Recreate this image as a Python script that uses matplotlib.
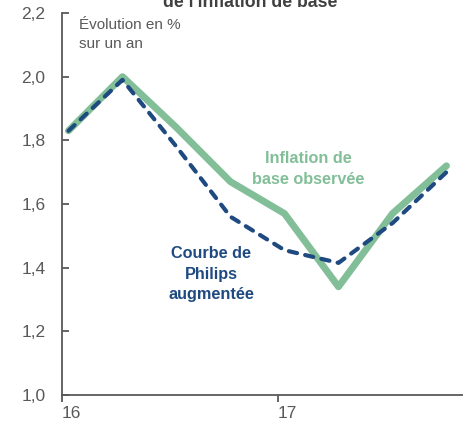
import matplotlib.pyplot as plt
from matplotlib.ticker import FuncFormatter, FixedLocator

# quarterly points, 2016Q1 .. 2017Q4
quarters = [16.03, 16.28, 16.53, 16.78, 17.03, 17.28, 17.53, 17.78]
inflation_base = [1.83, 2.00, 1.84, 1.67, 1.57, 1.34, 1.57, 1.72]
phillips = [1.83, 1.99, 1.78, 1.56, 1.455, 1.415, 1.54, 1.70]
yticks = [1.0, 1.2, 1.4, 1.6, 1.8, 2.0, 2.2]
xticks = [16, 17]

green = '#82bf98'
blue = '#1f4a80'
grey = '#595959'

plt.rcParams['font.family'] = ['Liberation Sans', 'DejaVu Sans']

fig = plt.figure(figsize=(4.64, 4.23), dpi=100)
ax = fig.add_axes([62 / 464, 1 - 395 / 423, 1 - 62 / 464, (395 - 13) / 423])

ax.plot(quarters, inflation_base, color=green, lw=5, solid_joinstyle='round',
        solid_capstyle='round', zorder=2)
ax.plot(quarters, phillips, color=blue, lw=3, linestyle=(0, (2.0, 2.0)),
        dash_capstyle='round', dash_joinstyle='round', zorder=3)

ax.set_xlim(16, 16 + 402 / 216)
ax.set_ylim(1.0, 2.2)
ax.xaxis.set_major_locator(FixedLocator(xticks))
ax.yaxis.set_major_locator(FixedLocator(yticks))
ax.yaxis.set_major_formatter(FuncFormatter(lambda v, p: f'{v:.1f}'.replace('.', ',')))
ax.xaxis.set_major_formatter(FuncFormatter(lambda v, p: f'{int(v)}'))

for s in ['top', 'right']:
    ax.spines[s].set_visible(False)
for s in ['left', 'bottom']:
    ax.spines[s].set_color(grey)
    ax.spines[s].set_linewidth(1.3)

ax.tick_params(axis='y', direction='in', length=5, width=1.3, color=grey,
               labelcolor=grey, labelsize=12.5, pad=12)
ax.tick_params(axis='x', direction='out', length=5, width=1.3, color=grey,
               labelcolor=grey, labelsize=12.5, pad=3)
for lab in ax.get_xticklabels():
    lab.set_horizontalalignment('left')

ax.text(16.08, 2.185, 'Évolution en %\nsur un an', color=grey, fontsize=11,
        ha='left', va='top', linespacing=1.5)
ax.text(17.14, 1.71, 'Inflation de\nbase observée', color=green, fontsize=11.7,
        fontweight='bold', ha='center', va='center', linespacing=1.45)
ax.text(16.69, 1.38, 'Courbe de\nPhilips\naugmentée', color=blue, fontsize=11.7,
        fontweight='bold', ha='center', va='center', linespacing=1.45)

fig.text(250 / 464, 1 - 7 / 423, "de l'inflation de base", color='#404040',
         fontsize=12.7, fontweight='bold', ha='center', va='baseline')

fig.savefig('out.png', dpi=100)
